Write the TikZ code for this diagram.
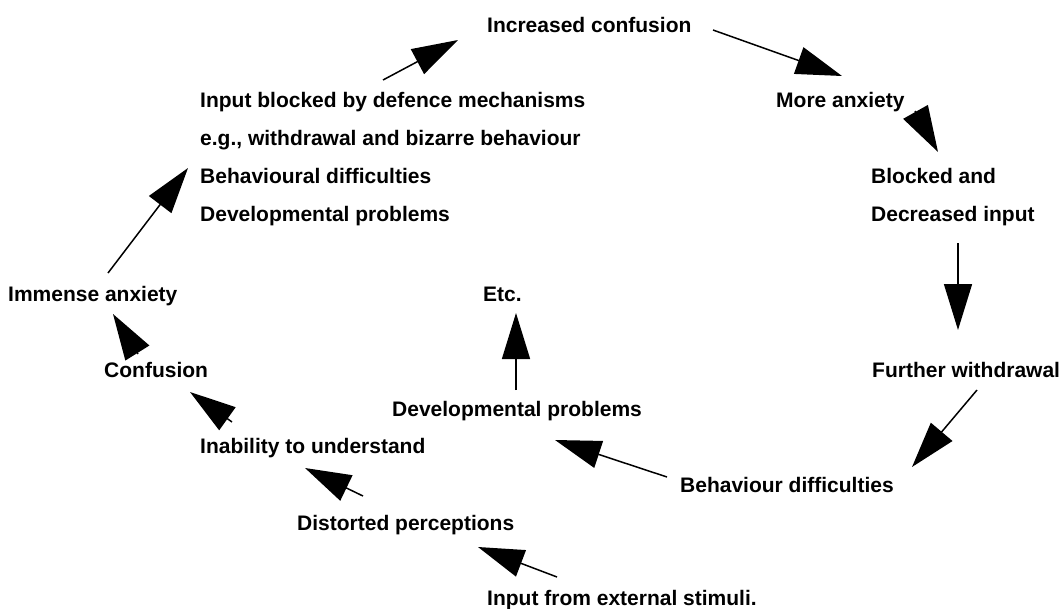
\documentclass[tikz,border=0pt]{standalone}
\usepackage{fontspec}
\setmainfont{Liberation Sans}
\usepackage{tikz}
\usetikzlibrary{arrows.meta, positioning}

\begin{document}
\begin{tikzpicture}[x=1pt, y=-1pt,
		lbl/.style={anchor=base west, inner sep=0pt, font=\fontsize{21}{25}\selectfont\bfseries},
		cyc/.style={line width=1.5pt, -{Triangle[length=46pt, width=28pt]}}]
		\useasboundingbox (0,0) rectangle (1064,608);
		% the cycle of texts
		\node[lbl] (incr) at (487,32) {Increased confusion};
		\node[lbl] (more) at (776,107) {More anxiety};
		\node[lbl] (inpb) at (200,107) {Input blocked by defence mechanisms};
		\node[lbl] (eg) at (200,145) {e.g., withdrawal and bizarre behaviour};
		\node[lbl] (behd) at (200,183) {Behavioural difficulties};
		\node[lbl] (devp) at (200,221) {Developmental problems};
		\node[lbl] (blck) at (871,183) {Blocked and};
		\node[lbl] (decr) at (871,221) {Decreased input};
		\node[lbl] (imm) at (8,301) {Immense anxiety};
		\node[lbl] (etc) at (483,301) {Etc.};
		\node[lbl] (conf) at (104,377) {Confusion};
		\node[lbl] (furw) at (872,377) {Further withdrawal};
		\node[lbl] (devb) at (392,416) {Developmental problems};
		\node[lbl] (inab) at (200,453) {Inability to understand};
		\node[lbl] (behv) at (680,492) {Behaviour difficulties};
		\node[lbl] (dist) at (297,530) {Distorted perceptions};
		\node[lbl] (inpx) at (487,605) {Input from external stimuli.};
		% arrow ends
		\coordinate (t1) at (108,273);  \coordinate (h1) at (188,168);
		\coordinate (t2) at (383,80);   \coordinate (h2) at (458,40);
		\coordinate (t3) at (713,30);   \coordinate (h3) at (842,76);
		\coordinate (t4) at (915,111);  \coordinate (h4) at (938,152);
		\coordinate (t5) at (958,243);  \coordinate (h5) at (958,330);
		\coordinate (t6) at (977,390);  \coordinate (h6) at (912,467);
		\coordinate (t7) at (667,477);  \coordinate (h7) at (555,440);
		\coordinate (t8) at (516,390);  \coordinate (h8) at (516,313);
		\coordinate (t9) at (557,577);  \coordinate (h9) at (478,547);
		\coordinate (t10) at (363,496); \coordinate (h10) at (305,468);
		\coordinate (t11) at (232,422); \coordinate (h11) at (190,392);
		\coordinate (t12) at (138,354); \coordinate (h12) at (113,314);
		\foreach \i in {1,...,12}
			\draw[cyc] (t\i) -- (h\i);
\end{tikzpicture}
\end{document}
